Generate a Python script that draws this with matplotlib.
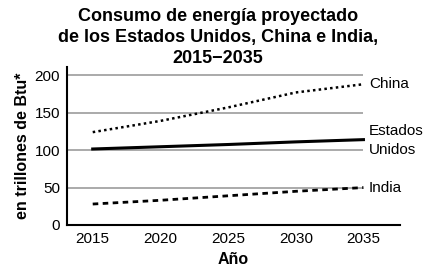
import matplotlib.pyplot as plt

plt.rcParams['font.family'] = ['Liberation Sans', 'DejaVu Sans']

years = [2015, 2020, 2025, 2030, 2035]
china = [124, 139, 157, 177, 188]
usa = [101.5, 104.5, 107.5, 111, 114]
india = [28, 33, 39, 45, 50]
yticks = [0, 50, 100, 150, 200]
xticks = [2015, 2020, 2025, 2030, 2035]

fig = plt.figure(figsize=(4.25, 2.69), dpi=100)
ax = fig.add_axes([67 / 425, 44 / 269, 333 / 425, 158 / 269])

# gridlines only up to the last year
ax.hlines(yticks[1:], 2013.1, 2035, color='#aaaaaa', lw=1.4, zorder=1)

ax.plot(years, china, color='black', lw=1.8, ls=(0, (1, 1.3)), zorder=3)
ax.plot(years, usa, color='black', lw=2.2, ls='-', zorder=3)
ax.plot(years, india, color='black', lw=2.0, ls=(0, (2, 1.6)), zorder=3)

ax.text(2035.4, china[-1], 'China', fontsize=11, va='center', ha='left')
ax.text(2035.4, 113, 'Estados\nUnidos', fontsize=11, va='center', ha='left', linespacing=1.4)
ax.text(2035.4, india[-1], 'India', fontsize=11, va='center', ha='left')

ax.set_xlim(2013.1, 2037.7)
ax.set_ylim(0, 211)
ax.set_xticks(xticks)
ax.set_yticks(yticks)
ax.tick_params(length=0, labelsize=11, pad=5)
for s in ['top', 'right']:
    ax.spines[s].set_visible(False)
for s in ['left', 'bottom']:
    ax.spines[s].set_linewidth(1.5)

ax.set_xlabel('Año', fontsize=11.5, fontweight='bold', labelpad=4)
ax.set_ylabel('en trillones de Btu*', fontsize=11.5, fontweight='bold', labelpad=3)

fig.suptitle('Consumo de energía proyectado\nde los Estados Unidos, China e India,\n2015\u22122035',
             fontsize=13, fontweight='bold', y=0.97, x=0.512, linespacing=1.3)

fig.savefig('out.png', dpi=100)
